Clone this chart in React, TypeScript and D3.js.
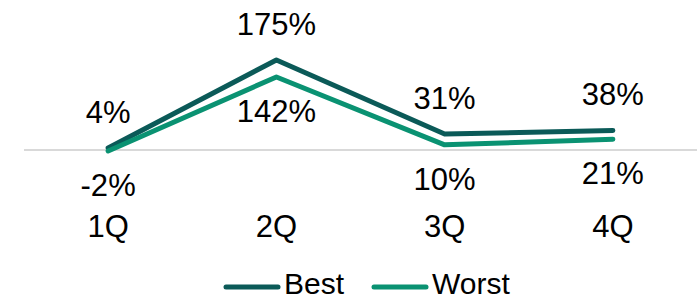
import React from "react";
import * as d3 from "d3";

const categories = ["1Q", "2Q", "3Q", "4Q"];
const bestValues = [4, 175, 31, 38];
const worstValues = [-2, 142, 10, 21];
const seriesNames = ["Best", "Worst"];
const seriesColors = ["#0b5a58", "#0a9272"];

const W = 697;
const H = 301;
const FONT = "'Liberation Sans', Arial, sans-serif";
const FS = 31;

export default function App() {
  const x = d3.scaleBand<string>().domain(categories).range([24, 697]).padding(0);
  const cx = (c: string) => (x(c) as number) + x.bandwidth() / 2;
  const y = d3.scaleLinear().domain([0, 175]).range([150, 60]);

  const line = d3
    .line<number>()
    .x((_, i) => cx(categories[i]))
    .y((d) => y(d));

  const series = [bestValues, worstValues];

  return (
    <svg
      width={W}
      height={H}
      style={{ position: "absolute", left: 0, top: 0, background: "#fff" }}
      fontFamily={FONT}
    >
      <line x1={24} x2={697} y1={y(0)} y2={y(0)} stroke="#d9d9d9" strokeWidth={2} />
      {series.map((vals, si) => (
        <path
          key={si}
          d={line(vals) || ""}
          fill="none"
          stroke={seriesColors[si]}
          strokeWidth={5}
          strokeLinecap="round"
          strokeLinejoin="round"
        />
      ))}
      {bestValues.map((v, i) => (
        <text key={"b" + i} x={cx(categories[i])} y={y(v) - 25} textAnchor="middle" fontSize={FS} fill="#000">
          {v}%
        </text>
      ))}
      {worstValues.map((v, i) => (
        <text key={"w" + i} x={cx(categories[i])} y={y(v) + 45} textAnchor="middle" fontSize={FS} fill="#000">
          {v}%
        </text>
      ))}
      {categories.map((c) => (
        <text key={c} x={cx(c)} y={237} textAnchor="middle" fontSize={FS} fill="#000">
          {c}
        </text>
      ))}
      {seriesNames.map((n, i) => {
        const lx = i === 0 ? 224 : 372;
        return (
          <g key={n}>
            <line
              x1={lx + 2}
              x2={lx + 54}
              y1={287}
              y2={287}
              stroke={seriesColors[i]}
              strokeWidth={5}
              strokeLinecap="round"
            />
            <text x={lx + 60} y={294} fontSize={30} fill="#000">
              {n}
            </text>
          </g>
        );
      })}
    </svg>
  );
}
